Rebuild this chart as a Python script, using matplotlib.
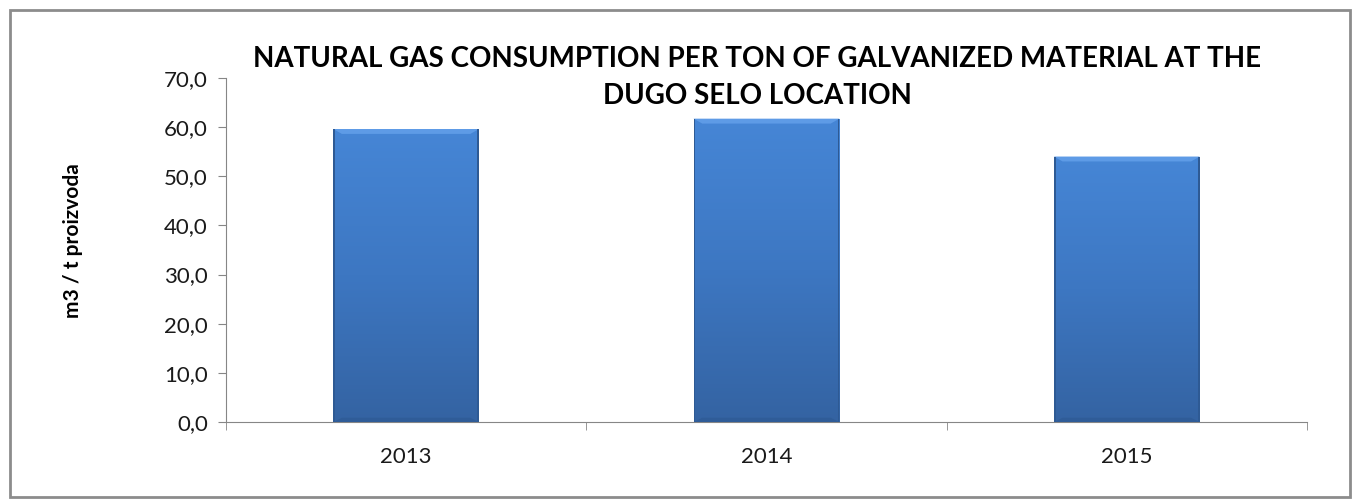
"""
    Spotřeba zemního plynu na tunu pozinkovaného materiálu
"""
import matplotlib
matplotlib.use("Agg")
import matplotlib.pyplot as plt
import numpy as np
from matplotlib.patches import Rectangle, Polygon

years = ["2013", "2014", "2015"]
consumption = [59.6, 61.7, 54.0]
y_ticks = [0, 10, 20, 30, 40, 50, 60, 70]
y_tick_labels = ["0,0", "10,0", "20,0", "30,0", "40,0", "50,0", "60,0", "70,0"]


def main():
    plt.rcParams["font.family"] = ["Lato", "DejaVu Sans"]
    fig = plt.figure(figsize=(13.53, 4.99), dpi=100)
    ax = fig.add_axes([0.167, 0.154, 0.799, 0.690])

    x = np.arange(len(years))
    bars = ax.bar(x, consumption, width=0.405, color="#3f78c4", zorder=2)

    # Přechod barvy na sloupcích
    grad = np.linspace(1, 0, 256).reshape(-1, 1)
    cmap = matplotlib.colors.LinearSegmentedColormap.from_list(
        "bar", ["#3463a2", "#3d77c2", "#4686d6"])
    for bar in bars:
        x0, w, h = bar.get_x(), bar.get_width(), bar.get_height()
        im = ax.imshow(grad, extent=[x0, x0 + w, 0, h], aspect="auto",
                       cmap=cmap, zorder=3, interpolation="bicubic")
        im.set_clip_path(bar)
        # světlejší horní hrana se zkosenými rohy, tmavší okraje
        bev = 1.0
        dx = w * 0.06
        ax.add_patch(Polygon([(x0, h), (x0 + w, h), (x0 + w - dx, h - bev),
                              (x0 + dx, h - bev)], closed=True,
                             color="#5e9be6", zorder=4, lw=0))
        ax.add_patch(Rectangle((x0, 0), w * 0.012, h, color="#2e5a94",
                               zorder=4, lw=0))
        ax.add_patch(Rectangle((x0 + w * 0.988, 0), w * 0.012, h,
                               color="#2e5a94", zorder=4, lw=0))
        ax.add_patch(Polygon([(x0, 0), (x0 + w, 0), (x0 + w - dx, 0.9),
                              (x0 + dx, 0.9)], closed=True,
                             color="#2f5c98", zorder=4, lw=0))

    ax.set_xlim(-0.5, len(years) - 0.5)
    ax.set_ylim(0, 70)
    ax.set_yticks(y_ticks)
    ax.set_yticklabels(y_tick_labels)
    ax.set_xticks(x)
    ax.set_xticklabels(years)
    ax.set_xticks(np.arange(-0.5, len(years)), minor=True)
    ax.tick_params(axis="x", which="major", length=0, pad=18, labelsize=16,
                   colors="#1a1a1a")
    ax.tick_params(axis="x", which="minor", length=6, color="#868686",
                   direction="out")
    ax.tick_params(axis="y", length=6, color="#868686", labelsize=16,
                   colors="#1a1a1a", pad=7)
    for side in ("top", "right"):
        ax.spines[side].set_visible(False)
    for side in ("left", "bottom"):
        ax.spines[side].set_color("#868686")

    fig.text(0.054, 0.517, "m3 / t proizvoda", rotation=90, ha="center",
             va="center", fontsize=15, fontweight="bold")
    fig.text(0.5595, 0.845,
             "NATURAL GAS CONSUMPTION PER TON OF GALVANIZED MATERIAL AT THE\n"
             "DUGO SELO LOCATION",
             ha="center", va="center", fontsize=20, fontweight="bold",
             linespacing=1.5)

    fig.patches.append(Rectangle((0.0075, 0.004), 0.9905, 0.975,
                                 transform=fig.transFigure, fill=False,
                                 edgecolor="#8c8c8c", lw=2))

    fig.savefig("out.png", dpi=100)


if __name__ == "__main__":
    main()
